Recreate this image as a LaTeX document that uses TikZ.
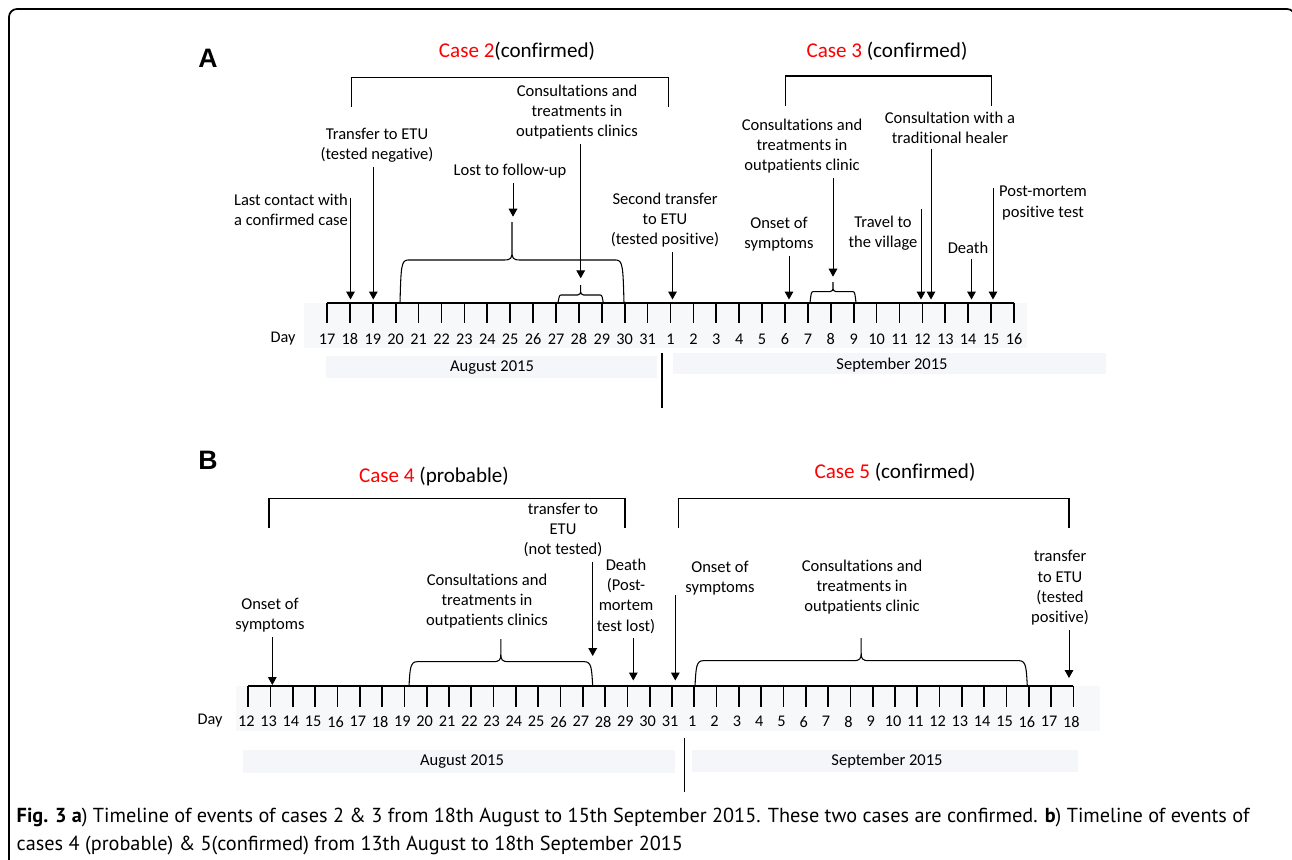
\documentclass[tikz,border=0pt]{standalone}
\usepackage{fontspec}
\setmainfont[Ligatures=NoCommon]{Carlito}
\newfontfamily\panelfont{Liberation Sans}
\newfontfamily\capfont{PT Sans}
\usetikzlibrary{arrows.meta}

\definecolor{bandgray}{HTML}{F6F8FA}
\definecolor{boxgray}{HTML}{F4F6F9}
\definecolor{casered}{HTML}{FF0000}

\tikzset{
  evlabel/.style={align=center, font=\fontsize{12.4}{15.2}\selectfont},
  casetitle/.style={font=\fontsize{15.8}{19}\selectfont},
  panellabel/.style={font=\panelfont\bfseries\fontsize{20}{24}\selectfont},
  daynum/.style={font=\fontsize{12.2}{14}\selectfont},
  monthtext/.style={font=\fontsize{12.4}{15}\selectfont},
  evt/.style={-{Triangle[width=6.5pt,length=6pt]}, line width=0.75pt},
  bracket/.style={line width=0.8pt},
  tick/.style={line width=1.3pt},
  axis/.style={line width=1.3pt},
  divider/.style={line width=1pt},
}

% curly brace: left x, right x, bottom y, level y, tip y, corner
\newcommand{\tlbrace}[6]{%
  \draw[bracket] (#1,#3) .. controls (#1+1,#4+#6) and (#1+1,#4) .. (#1+#6,#4)
    -- ({(#1+#2)/2-#6},#4) .. controls ({(#1+#2)/2-1},#4) and ({(#1+#2)/2},#4-2) .. ({(#1+#2)/2},#4-#6)
    -- ({(#1+#2)/2},#5) -- ({(#1+#2)/2},#4-#6)
    .. controls ({(#1+#2)/2},#4-2) and ({(#1+#2)/2+1},#4) .. ({(#1+#2)/2+#6},#4)
    -- (#2-#6,#4) .. controls (#2-1,#4) and (#2-1,#4+#6) .. (#2,#3);}

\begin{document}
\begin{tikzpicture}[x=0.75pt,y=-0.75pt]
\useasboundingbox (0,0) rectangle (1292,860);
\draw[line width=1.3pt, rounded corners=6pt] (9,9) rectangle (1295,900);

% ---- panel A ----
\fill[bandgray] (304,303) rectangle (1027,348);
\fill[boxgray] (326,356) rectangle (657,377.7);
\fill[boxgray] (673,352.7) rectangle (1105.7,374.3);
\foreach \i in {0,...,30}{
  \pgfmathtruncatemacro{\d}{\i<15 ? 17+\i : \i-14}
  \coordinate (A-\i) at (327+22.9*\i,302.7);
  \draw[tick] (A-\i) -- ++(0,20.3);
  \node[daynum] (An-\i) at (327+22.9*\i,339) {\d};
}
\draw[axis] (A-0) -- (A-30);
\node[daynum] (dayA) at (283,339) {Day};
\node[monthtext] (augA) at (492,368) {August 2015};
\node[monthtext] (sepA) at (892,365) {September 2015};
\draw[divider] (662,353) -- (662,408);

\node[panellabel] (labA) at (208,58) {A};
\node[casetitle] (case2) at (517,51) {\textcolor{casered}{Case 2}(confirmed)};
\node[casetitle] (case3) at (887,51) {\textcolor{casered}{Case 3} (confirmed)};
\draw[bracket] (351.3,107) -- (351.3,77.7) -- (668.3,77.7) -- (668.3,107);
\draw[bracket] (785.3,106) -- (785.3,76) -- (991.7,76) -- (991.7,106);

\node[evlabel] (cons2) at (577,112) {Consultations and\\treatments in\\outpatients clinics};
\node[evlabel] (trneg) at (377,145) {Transfer to ETU\\(tested negative)};
\node[evlabel] (lost) at (510,171) {Lost to follow-up};
\node[evlabel] (lastc) at (291,210) {Last contact with\\a confirmed case};
\node[evlabel] (trpos) at (665,220) {Second transfer\\to ETU\\(tested positive)};
\node[evlabel] (cons3) at (802,146) {Consultations and\\treatments in\\outpatients clinic};
\node[evlabel] (healer) at (950,128) {Consultation with a\\traditional healer};
\node[evlabel] (onset3) at (779,234) {Onset of\\symptoms};
\node[evlabel] (travel) at (883,233.5) {Travel to\\the village};
\node[evlabel] (death3) at (968,248) {Death};
\node[evlabel] (pm) at (1043,203) {Post-mortem\\positive test};

\tlbrace{400}{624}{302.7}{260}{222}{8}
\tlbrace{558}{603.3}{302.7}{295}{285}{3}
\tlbrace{810}{856}{302.7}{291.7}{282}{3}

\coordinate (s-lastc) at (350.5,198);
\coordinate (e-lastc) at (350.5,299.5);
\coordinate (e-trneg) at (373.3,299.5);
\coordinate (e-lost) at (513,216.7);
\coordinate (e-cons2) at (580.7,278.3);
\coordinate (e-trpos) at (672.5,299.5);
\coordinate (e-onset3) at (789,299.5);
\coordinate (e-cons3) at (833,276.7);
\coordinate (s-travel) at (921,209);
\coordinate (e-travel) at (921,299.5);
\coordinate (e-healer) at (931,299.5);
\coordinate (e-death3) at (971.5,299.5);
\coordinate (s-pm) at (993,188);
\coordinate (e-pm) at (993,299.5);

\draw[evt] (s-lastc) -- (e-lastc);
\draw[evt] (trneg.south -| e-trneg) -- (e-trneg);
\draw[evt] (lost.south -| e-lost) -- (e-lost);
\draw[evt] (cons2.south -| e-cons2) -- (e-cons2);
\draw[evt] (trpos.south -| e-trpos) -- (e-trpos);
\draw[evt] (onset3.south -| e-onset3) -- (e-onset3);
\draw[evt] (cons3.south -| e-cons3) -- (e-cons3);
\draw[evt] (s-travel) -- (e-travel);
\draw[evt] (healer.south -| e-healer) -- (e-healer);
\draw[evt] (death3.south -| e-death3) -- (e-death3);
\draw[evt] (s-pm) -- (e-pm);

% ---- panel B ----
\fill[bandgray] (236,686) rectangle (1100,731);
\fill[boxgray] (243.3,750) rectangle (675,772.7);
\fill[boxgray] (691.7,750) rectangle (1077.7,771.7);
\foreach \i in {0,...,37}{
  \pgfmathtruncatemacro{\d}{\i<20 ? 12+\i : \i-19}
  \coordinate (B-\i) at (248.3+22.3*\i,686);
  \draw[tick] (B-\i) -- ++(0,20.7);
  \node[daynum] (Bn-\i) at (246.3+22.3*\i,721.7) {\d};
}
\draw[axis] (B-0) -- (B-37);
\node[daynum] (dayB) at (210,721) {Day};
\node[monthtext] (augB) at (462,762) {August 2015};
\node[monthtext] (sepB) at (887,761.5) {September 2015};
\draw[divider] (684.3,738) -- (684.3,792);

\node[panellabel] (labB) at (208,460) {B};
\node[casetitle] (case4) at (434,476) {\textcolor{casered}{Case 4} (probable)};
\node[casetitle] (case5) at (895,472) {\textcolor{casered}{Case 5} (confirmed)};
\draw[bracket] (269,528) -- (269,498.7) -- (625,498.7) -- (625,528);
\draw[bracket] (678.3,528) -- (678.3,498.7) -- (1069,498.7) -- (1069,528);

\node[evlabel] (onset4) at (270,615) {Onset of\\symptoms};
\node[evlabel] (cons4) at (487,601) {Consultations and\\treatments in\\outpatients clinics};
\node[evlabel] (trans4) at (563,530) {transfer to\\ETU\\(not tested)};
\node[evlabel] (death4) at (626,596) {Death\\(Post-\\mortem\\test lost)};
\node[evlabel] (onset5) at (720,578) {Onset of\\symptoms};
\node[evlabel] (cons5) at (862,587) {Consultations and\\treatments in\\outpatients clinic};
\node[evlabel] (trans5) at (1060,588) {transfer\\to ETU\\(tested\\positive)};

\tlbrace{409}{592.7}{686}{661.7}{639}{8}
\tlbrace{695}{1027.3}{686}{660.7}{638}{8}

\coordinate (e-onset4) at (272.3,685);
\coordinate (e-trans4) at (592.7,656);
\coordinate (e-death4) at (633.3,680.5);
\coordinate (s-onset5) at (675.3,595);
\coordinate (e-onset5) at (675.3,680.5);
\coordinate (e-trans5) at (1069,678);

\draw[evt] (onset4.south -| e-onset4) -- (e-onset4);
\draw[evt] (trans4.south -| e-trans4) -- (e-trans4);
\draw[evt] (death4.south -| e-death4) -- (e-death4);
\draw[evt] (s-onset5) -- (e-onset5);
\draw[evt] (trans5.south -| e-trans5) -- (e-trans5);

% ---- caption ----
\node[anchor=west, align=left, font=\capfont\fontsize{15.2}{20.3}\selectfont] (cap) at (12,831.5)
  {\textbf{Fig. 3 a}) Timeline of events of cases 2 \& 3 from 18th August to 15th September 2015. These two cases are confirmed. \textbf{b}) Timeline of events of\\
   cases 4 (probable) \& 5(confirmed) from 13th August to 18th September 2015};
\end{tikzpicture}
\end{document}
